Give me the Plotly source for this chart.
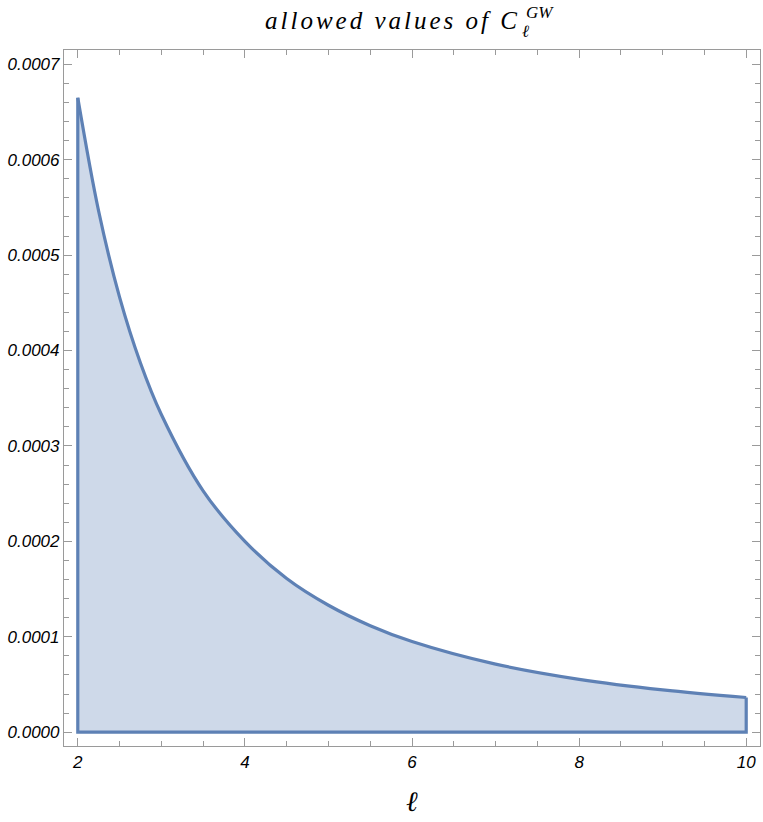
import plotly.graph_objects as go

# data
ell = [2, 2.25, 2.5, 2.75, 3, 3.5, 4, 4.5, 5, 5.5, 6, 7, 8, 9, 10]
cl_gw = [0.000665, 0.000546, 0.000456, 0.000387, 0.000333, 0.000253, 0.000200,
         0.000161, 0.000133, 0.0001116, 0.000095, 0.0000713, 0.0000554,
         0.0000443, 0.0000363]
x_ticks = [2, 4, 6, 8, 10]
y_ticks = [0.0, 0.0001, 0.0002, 0.0003, 0.0004, 0.0005, 0.0006, 0.0007]
y_ticklabels = ["0.0000", "0.0001", "0.0002", "0.0003", "0.0004", "0.0005", "0.0006", "0.0007"]

line_col = "#5E81B5"
fill_col = "rgba(94,129,181,0.3)"
axis_col = "#9a9a9a"

fig = go.Figure()
fig.add_trace(go.Scatter(x=ell, y=cl_gw, mode="lines", line=dict(color=line_col, width=3.2, shape="spline"),
                         fill="tozeroy", fillcolor=fill_col, hoverinfo="skip", showlegend=False))
fig.add_trace(go.Scatter(x=[ell[-1], ell[-1], ell[0], ell[0]], y=[cl_gw[-1], 0, 0, cl_gw[0]],
                         mode="lines", line=dict(color=line_col, width=3.2), showlegend=False, hoverinfo="skip"))

tickfont = dict(family="Liberation Sans, Arial", size=17, color="black", style="italic")
common = dict(showgrid=False, zeroline=False, showline=True, linecolor=axis_col, linewidth=1.2,
              mirror="allticks", ticks="inside", tickcolor=axis_col, ticklen=8, tickwidth=1,
              tickfont=tickfont, automargin=False)
fig.update_xaxes(range=[1.835, 10.165], tickvals=x_ticks, ticktext=[str(v) for v in x_ticks],
                 minor=dict(dtick=0.5, ticks="inside", ticklen=5, tickcolor=axis_col, tickwidth=1),
                 **common)
fig.update_yaxes(range=[-0.0000145, 0.000715], tickvals=y_ticks, ticktext=y_ticklabels,
                 minor=dict(dtick=0.00002, ticks="inside", ticklen=5, tickcolor=axis_col, tickwidth=1),
                 **common)

fig.add_annotation(text='<span style="letter-spacing:3px">allowed values of C</span>', xref="paper", yref="paper",
                   x=0.658, y=1.0, yshift=30, xanchor="right", yanchor="middle", showarrow=False,
                   font=dict(family="Liberation Serif, Times New Roman", size=25, color="black", style="italic"))
fig.add_annotation(text="GW", xref="paper", yref="paper", x=0.658, y=1.0, yshift=38, xshift=2, xanchor="left",
                   yanchor="middle", showarrow=False,
                   font=dict(family="Liberation Serif, Times New Roman", size=17, color="black", style="italic"))
fig.add_annotation(text="ℓ", xref="paper", yref="paper", x=0.658, y=1.0, yshift=19, xshift=-2, xanchor="left",
                   yanchor="middle", showarrow=False,
                   font=dict(family="Liberation Serif, Times New Roman", size=17, color="black", style="italic"))
fig.add_annotation(text="ℓ", xref="paper", yref="paper", x=0.5, y=0, yshift=-55, xanchor="center",
                   yanchor="middle", showarrow=False,
                   font=dict(family="Liberation Serif, Times New Roman", size=28, color="black", style="italic"))

fig.update_layout(width=763, height=822, margin=dict(l=64, r=3, t=50, b=76),
                  paper_bgcolor="white", plot_bgcolor="white")
fig.write_html("out.html", config={"displayModeBar": False},
               post_script="document.body.style.margin='0';")
